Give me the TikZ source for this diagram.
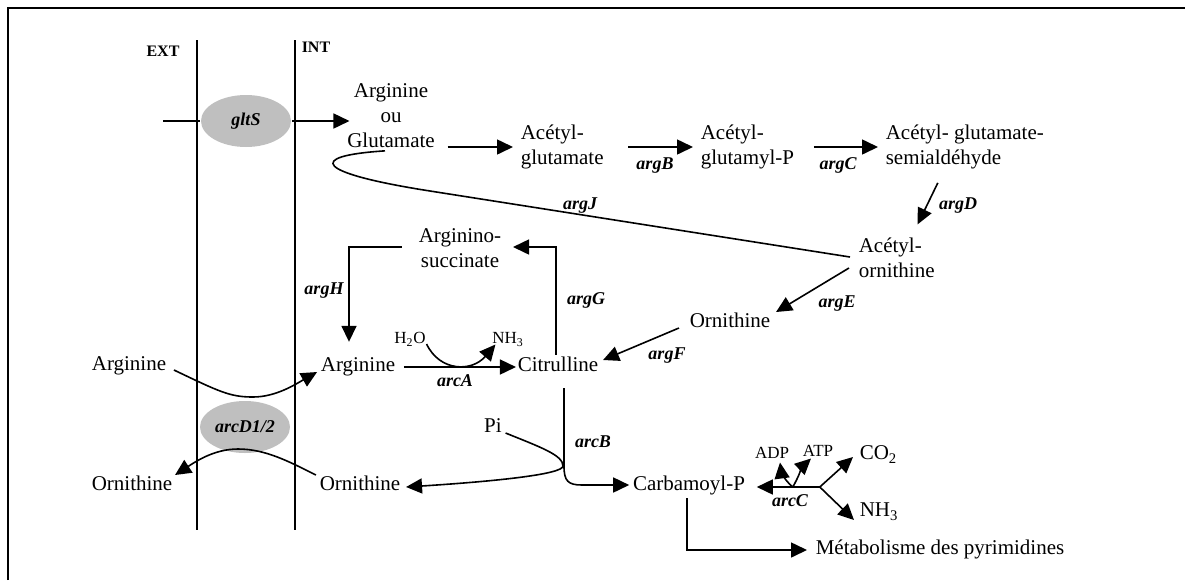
\documentclass[tikz,border=0pt]{standalone}
\usepackage{fontspec}
\setmainfont{Liberation Serif}
\usetikzlibrary{arrows.meta,calc,shapes.geometric}

\begin{document}
\begin{tikzpicture}[x=0.5pt,y=-0.5pt,
  line width=0.8pt,
  arr/.style={-{Triangle[length=8pt,width=7.5pt]}},
  txt/.style={inner sep=0pt, font=\fontsize{10.5}{12.5}\selectfont, text height=7.1pt, text depth=2.3pt},
  block/.style={inner sep=0pt, font=\fontsize{10.5}{12.5}\selectfont},
  small/.style={inner sep=0pt, font=\fontsize{8.5}{10}\selectfont, text height=5.8pt, text depth=1.9pt},
  gene/.style={inner sep=0pt, font=\fontsize{9}{10}\selectfont\bfseries\itshape, text height=6.1pt, text depth=2pt},
  side/.style={inner sep=0pt, font=\fontsize{8}{9}\selectfont\bfseries, text height=5.4pt, text depth=1.8pt},
  porter/.style={ellipse, fill=black!25, inner sep=0pt, minimum width=45pt, minimum height=26pt,
    font=\fontsize{9}{10}\selectfont\bfseries\itshape},
]
\useasboundingbox (0,0) rectangle (1185,580);

% frame and membrane
\draw[line width=0.6pt] (8,580) -- (8,8) -- (1185,8);
\draw (197,40) -- (197,530);
\draw (295,40) -- (295,530);
\node[side] (ext) at (163,53) {EXT};
\node[side] (int) at (316,49) {INT};

% transporters
\node[porter] (glts) at (246,121) {gltS};
\node[porter] (arcd) at (245,427) {arcD1/2};
\coordinate (gin) at (163,121);

% metabolites
\node[block, align=center] (argglu) at (391,116) {Arginine\\ou\\Glutamate};
\node[block, align=left, anchor=west] (acglu) at (520,147) {Acétyl-\\glutamate};
\node[block, align=left, anchor=west] (acglup) at (700,147) {Acétyl-\\glutamyl-P};
\node[block, align=left, anchor=west] (acgsa) at (885,147) {Acétyl- glutamate-\\semialdéhyde};
\node[block, align=left, anchor=west] (acorn) at (858,258) {Acétyl-\\ornithine};
\node[block, align=center] (asuc) at (460,248) {Arginino-\\succinate};
\node[txt] (ornm) at (730,323) {Ornithine};
\node[txt] (argin) at (358,367) {Arginine};
\node[txt] (citr) at (558,367) {Citrulline};
\node[txt] (argout) at (129,366) {Arginine};
\node[txt] (ornout) at (132,486) {Ornithine};
\node[txt] (ornin) at (360,486) {Ornithine};
\node[txt] (pi) at (493,428) {Pi};
\node[txt] (carb) at (689,486) {Carbamoyl-P};
\node[txt, anchor=west] (co2) at (859,455) {CO\textsubscript{2}};
\node[txt, anchor=west] (nh3b) at (859,512) {NH\textsubscript{3}};
\node[txt, anchor=west] (met) at (815,550) {Métabolisme des pyrimidines};
\node[small] (h2o) at (410,340) {H\textsubscript{2}O};
\node[small] (nh3a) at (508,340) {NH\textsubscript{3}};
\node[small] (adp) at (772,455) {ADP};
\node[small] (atp) at (818,453) {ATP};

% enzyme genes
\node[gene] (argB) at (655,165) {argB};
\node[gene] (argC) at (838,165) {argC};
\node[gene] (argD) at (958,205) {argD};
\node[gene] (argJ) at (580,205) {argJ};
\node[gene] (argE) at (837,303) {argE};
\node[gene] (argF) at (667,355) {argF};
\node[gene] (argG) at (586,300) {argG};
\node[gene] (argH) at (324,290) {argH};
\node[gene] (arcA) at (455,382) {arcA};
\node[gene] (arcB) at (593,443) {arcB};
\node[gene] (arcC) at (790,502) {arcC};

% uptake
\draw (gin) -- (glts.west);
\draw[arr] (glts.east) -- ($(glts.east -| argglu.west)+(3,0)$);

% acetylated pathway
\draw[arr] ($(argglu.east |- acglu.west)+(12,0)$) -- ($(acglu.west)+(-7,0)$);
\draw[arr] ($(acglu.east)+(24,0)$) -- ($(acglup.west)+(-7,0)$);
\draw[arr] ($(acglup.east)+(19,0)$) -- ($(acgsa.west)+(-7,0)$);
\draw[arr] ($(acgsa.south)+(-27,13)$) -- ($(acorn.north)+(21,-13)$);
\draw ($(acorn.west)+(-8,-1)$) -- (430,191) .. controls (315,173) and (305,156) .. ($(argglu.south)+(-6,2)$);
\draw[arr] ($(acorn.west)+(-9,10)$) -- ($(ornm.east)+(5,-11)$);
\draw[arr] ($(ornm.west)+(-10,5)$) -- ($(citr.east)+(4,-7)$);

% urea-cycle part
\draw[arr] ($(citr.north)+(-2,-2)$) |- ($(asuc.east)+(11,-1)$);
\draw[arr] ($(asuc.west)+(-16,-1)$) -| ($(argin.north)+(-9,-15)$);
\draw[arr] ($(argin.east)+(8,0)$) -- ($(citr.west)+(-1,0)$);
\draw[arr] ($(h2o.east)+(0,4)$) .. controls (440,372) and (472,372) .. ($(nh3a.south west)+(4,-4)$);

% arginine / ornithine antiport
\draw[arr] ($(argout.east)+(7,4)$) .. controls (220,392) and (230,397) .. (253,397)
  .. controls (276,397) and (296,384) .. ($(argin.west)+(-3,5)$);
\draw[arr] ($(ornin.west)+(-3,-11)$) .. controls (288,461) and (265,449) .. (238,449)
  .. controls (214,449) and (195,462) .. ($(ornout.east)+(2,-11)$);

% ornithine carbamoyltransferase
\draw[arr] ($(citr.south)+(6,11)$) -- (564,466) .. controls (564,481) and (568,485) .. (582,485)
  -- ($(carb.west)+(-3,-1)$);
\draw[arr] ($(pi.east)+(3,5)$) .. controls (540,447) and (563,455) .. (563,466)
  .. controls (563,474) and (500,481) .. ($(ornin.east)+(5,1)$);

% carbamate kinase
\coordinate (arccj) at ($(carb.east)+(74,1)$);
\draw[arr] (arccj) -- ($(carb.east)+(11,1)$);
\draw[arr] (arccj) -- ($(co2.west)+(-6,2)$);
\draw[arr] (arccj) -- ($(nh3b.west)+(-5,8)$);
\draw[arr] ($(arccj)+(-27,0)$) .. controls (784,480) and (781,470) .. ($(adp.south)+(8,-1)$);
\draw[arr] ($(arccj)+(-27,0)$) .. controls (798,478) and (803,466) .. ($(atp.south)+(-7,-3)$);

% towards pyrimidines
\draw[arr] ($(carb.south)+(-2,2)$) |- ($(met.west)+(-8,0)$);
\end{tikzpicture}
\end{document}
